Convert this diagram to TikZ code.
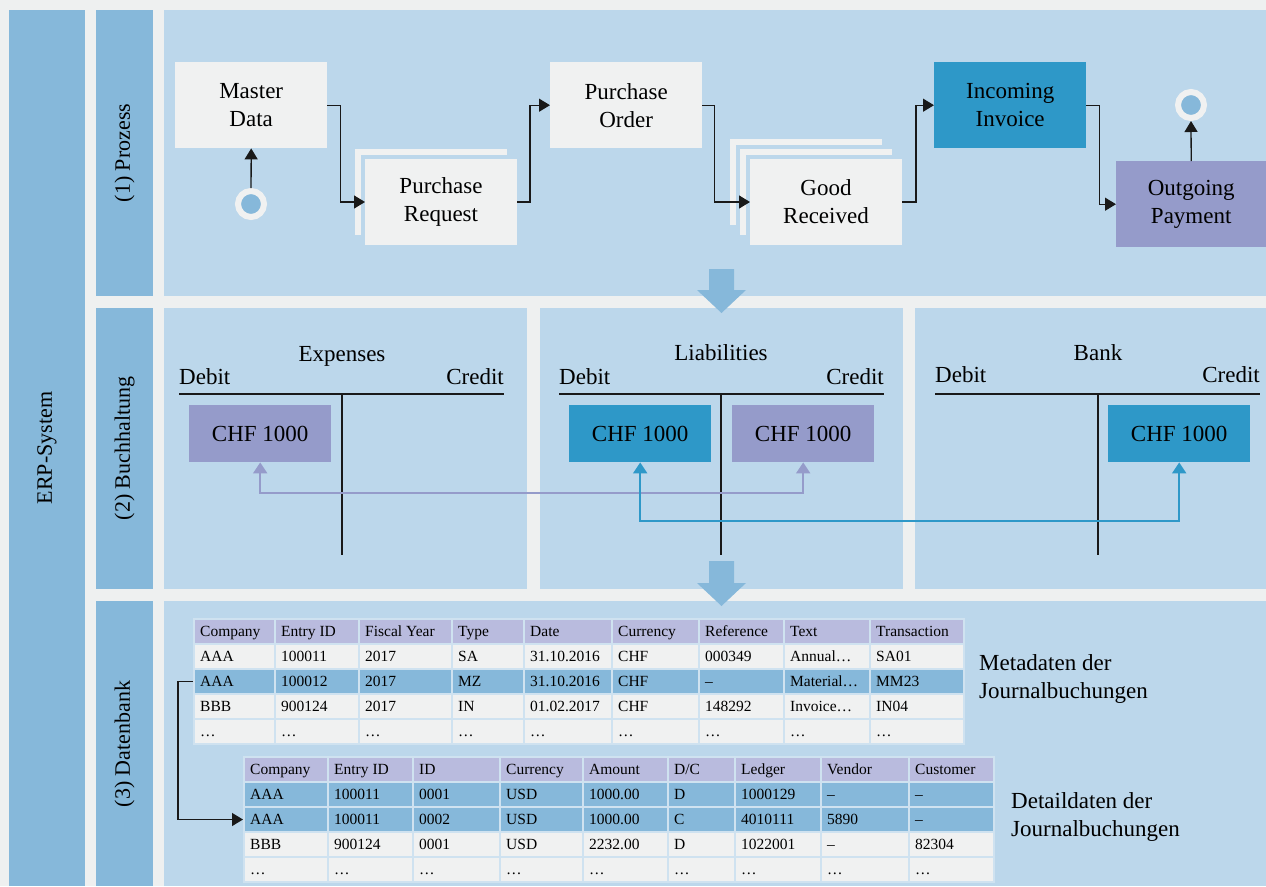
\documentclass[tikz,border=0pt]{standalone}
\usepackage{fontspec}
\setmainfont{Liberation Serif}
\usetikzlibrary{arrows.meta}
\definecolor{pagebg}{HTML}{EEF0F0}
\definecolor{lanebg}{HTML}{BCD7EB}
\definecolor{lanemid}{HTML}{86B8DA}
\definecolor{boxgray}{HTML}{F0F1F1}
\definecolor{invblue}{HTML}{2E98C8}
\definecolor{purp}{HTML}{959BCA}
\definecolor{hdr}{HTML}{B9BBDE}
\definecolor{sepc}{HTML}{CFE2F0}
\newcommand\bigfont{\fontsize{23}{28}\selectfont}
\newcommand\tabfont{\fontsize{15.5}{18}\selectfont}
\newcommand\trow[4]{%
  \foreach \a/\b/\t [count=\c] in {#4} {
    \pgfmathsetmacro\cw{\b-\a}
    \node[cell, fill=#3, minimum width=\cw pt] (#1-\c) at (\a,#2) {};
    \node[celltext] (#1-\c-t) at ([xshift=7pt,yshift=-5pt]#1-\c.west) {\t};
  }%
}
\begin{document}
\begin{tikzpicture}[x=1pt,y=-1pt,
  procbox/.style={rectangle, anchor=north west, inner sep=0pt, minimum width=152pt, minimum height=86pt, fill=boxgray, align=center, font=\bigfont},
  sheet/.style={rectangle, anchor=north west, inner sep=0pt, minimum width=156pt, minimum height=90pt, fill=boxgray, draw=lanebg, line width=4pt, outer sep=-2pt, align=center, font=\bigfont},
  evt/.style={circle, fill=lanemid, draw=boxgray, line width=6pt, minimum size=26pt, inner sep=0pt},
  conn/.style={draw=black!90, line width=1.3pt, -{Triangle[length=11pt,width=13pt]}},
  pconn/.style={draw=purp, line width=2pt, {Triangle[length=11pt,width=14pt]}-{Triangle[length=11pt,width=14pt]}},
  bconn/.style={draw=invblue, line width=2pt, {Triangle[length=11pt,width=14pt]}-{Triangle[length=11pt,width=14pt]}},
  acct/.style={inner sep=0pt, font=\bigfont},
  tline/.style={draw=black!90, line width=1.2pt},
  chf/.style={rectangle, anchor=north west, inner sep=0pt, minimum width=142pt, minimum height=57pt, font=\bigfont},
  lanelabel/.style={rotate=90, inner sep=0pt, font=\fontsize{22}{26}\selectfont},
  cell/.style={rectangle, anchor=north west, inner sep=0pt, minimum height=25pt, draw=sepc, line width=2pt},
  celltext/.style={anchor=base west, inner sep=0pt, font=\tabfont},
  note/.style={anchor=west, inner sep=0pt, align=left, font=\bigfont},
  block/.style={fill=lanemid}
]
\useasboundingbox (0,0) rectangle (1266,886);
\fill[pagebg] (0,0) rectangle (1266,886);
% columns and lanes
\fill[lanemid] (9,10) rectangle (85,886);
\fill[lanemid] (96,10) rectangle (153,296);
\fill[lanemid] (96,308) rectangle (153,589);
\fill[lanemid] (96,601) rectangle (153,886);
\fill[lanebg] (164,10) rectangle (1266,296);
\fill[lanebg] (164,308) rectangle (527,589);
\fill[lanebg] (540,308) rectangle (903,589);
\fill[lanebg] (915,308) rectangle (1266,589);
\fill[lanebg] (164,601) rectangle (1266,886);
\node[lanelabel] (erp) at (47,448) {ERP-System};
\node[lanelabel] (l1) at (124.5,153) {(1) Prozess};
\node[lanelabel] (l2) at (124.5,448.5) {(2) Buchhaltung};
\node[lanelabel] (l3) at (124.5,744) {(3) Datenbank};

% process
\node[procbox] (md) at (175,62) {Master\\Data};
\node[sheet] (prb) at (355,149) {};
\node[sheet] (pr) at (365,159) {Purchase\\Request};
\node[procbox] (po) at (550,62) {Purchase\\Order};
\node[sheet] (grb) at (730,139) {};
\node[sheet] (grm) at (740,149) {};
\node[sheet] (gr) at (750,159) {Good\\Received};
\node[procbox, fill=invblue] (ii) at (934,62) {Incoming\\Invoice};
\node[procbox, fill=purp, minimum width=150pt] (op) at (1116,161) {Outgoing\\Payment};
\node[evt] (st) at (251,204) {};
\node[evt] (en) at (1191,105) {};
\draw[conn] (st) -- (md.south);
\draw[conn] (op.north) -- (en.south);
\draw[conn] (md.east) -- ++(13,0) |- (pr.west);
\draw[conn] (pr.east) -- ++(13,0) |- (po.west);
\draw[conn] (po.east) -- ++(12,0) |- (gr.west);
\draw[conn] (gr.east) -- ++(14,0) |- (ii.west);
\draw[conn] (ii.east) -- ++(13,0) |- (op.west);

% block arrows
\fill[block] (709,269) -- (734,269) -- (734,290) -- (746,290) -- (721.5,313) -- (697,290) -- (709,290) -- cycle;
\fill[block] (709,561) -- (734,561) -- (734,583) -- (746,583) -- (721.5,606) -- (697,583) -- (709,583) -- cycle;

% accounting
\node[acct, anchor=base] (t1) at (342,361) {Expenses};
\node[acct, anchor=base west] (d1) at (179,384) {Debit};
\node[acct, anchor=base east] (c1) at (504,384) {Credit};
\coordinate (h1a) at (179,394); \coordinate (h1b) at (504,394);
\coordinate (v1a) at (342,394); \coordinate (v1b) at (342,555);
\draw[tline] (h1a) -- (h1b); \draw[tline] (v1a) -- (v1b);

\node[acct, anchor=base] (t2) at (721,360) {Liabilities};
\node[acct, anchor=base west] (d2) at (559,384) {Debit};
\node[acct, anchor=base east] (c2) at (884,384) {Credit};
\coordinate (h2a) at (559,394); \coordinate (h2b) at (884,394);
\coordinate (v2a) at (721,394); \coordinate (v2b) at (721,555);
\draw[tline] (h2a) -- (h2b); \draw[tline] (v2a) -- (v2b);

\node[acct, anchor=base] (t3) at (1098,360) {Bank};
\node[acct, anchor=base west] (d3) at (935,382) {Debit};
\node[acct, anchor=base east] (c3) at (1260,382) {Credit};
\coordinate (h3a) at (935,394); \coordinate (h3b) at (1260,394);
\coordinate (v3a) at (1098,394); \coordinate (v3b) at (1098,555);
\draw[tline] (h3a) -- (h3b); \draw[tline] (v3a) -- (v3b);

\node[chf, fill=purp] (e1) at (189,405) {CHF 1000};
\node[chf, fill=invblue] (ld) at (569,405) {CHF 1000};
\node[chf, fill=purp] (lc) at (732,405) {CHF 1000};
\node[chf, fill=invblue] (bc) at (1108,405) {CHF 1000};
\draw[pconn] (e1.south) -- ++(0,31) -| (lc.south);
\draw[bconn] (ld.south) -- ++(0,59) -| (bc.south);

% tables
\trow{m0}{618}{hdr}{193/274/Company, 274/358/Entry ID, 358/451/Fiscal Year, 451/523/Type, 523/611/Date, 611/698/Currency, 698/783/Reference, 783/869/Text, 869/963/Transaction}
\trow{m1}{643}{boxgray}{193/274/AAA, 274/358/100011, 358/451/2017, 451/523/SA, 523/611/31.10.2016, 611/698/CHF, 698/783/000349, 783/869/Annual…, 869/963/SA01}
\trow{m2}{668}{lanemid}{193/274/AAA, 274/358/100012, 358/451/2017, 451/523/MZ, 523/611/31.10.2016, 611/698/CHF, 698/783/–, 783/869/Material…, 869/963/MM23}
\trow{m3}{693}{boxgray}{193/274/BBB, 274/358/900124, 358/451/2017, 451/523/IN, 523/611/01.02.2017, 611/698/CHF, 698/783/148292, 783/869/Invoice…, 869/963/IN04}
\trow{m4}{718}{boxgray}{193/274/…, 274/358/…, 358/451/…, 451/523/…, 523/611/…, 611/698/…, 698/783/…, 783/869/…, 869/963/…}

\trow{d0}{756}{hdr}{243/327/Company, 327/412/Entry ID, 412/499/ID, 499/582/Currency, 582/667/Amount, 667/734/{D/C}, 734/820/Ledger, 820/908/Vendor, 908/993/Customer}
\trow{d1}{781}{lanemid}{243/327/AAA, 327/412/100011, 412/499/0001, 499/582/USD, 582/667/1000.00, 667/734/D, 734/820/1000129, 820/908/–, 908/993/–}
\trow{d2}{806}{lanemid}{243/327/AAA, 327/412/100011, 412/499/0002, 499/582/USD, 582/667/1000.00, 667/734/C, 734/820/4010111, 820/908/5890, 908/993/–}
\trow{d3}{831}{boxgray}{243/327/BBB, 327/412/900124, 412/499/0001, 499/582/USD, 582/667/2232.00, 667/734/D, 734/820/1022001, 820/908/–, 908/993/82304}
\trow{d4}{856}{boxgray}{243/327/…, 327/412/…, 412/499/…, 499/582/…, 582/667/…, 667/734/…, 734/820/…, 820/908/…, 908/993/…}

\draw[conn] (m2-1.west) -- ++(-15,0) |- (d2-1.west);

\node[note] (meta) at (979,679) {Metadaten der\\Journalbuchungen};
\node[note] (detail) at (1011,817) {Detaildaten der\\Journalbuchungen};
\end{tikzpicture}
\end{document}
